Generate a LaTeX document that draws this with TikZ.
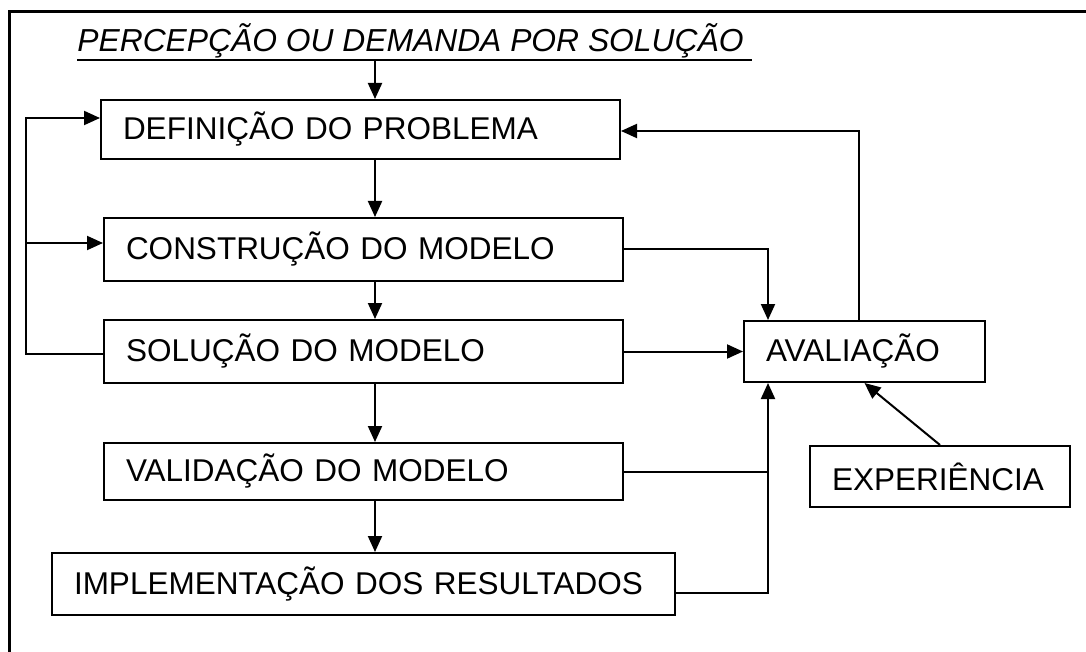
\documentclass[tikz,border=0pt]{standalone}
\usepackage{fontspec}
\setmainfont{Liberation Sans}
\usetikzlibrary{arrows.meta}
\newcommand{\stagefont}{\fontsize{15.75}{18}\selectfont}
\tikzset{
	stage/.style={draw, line width=1pt, anchor=north west, align=left, inner xsep=11pt, inner ysep=0pt, font=\stagefont},
	link/.style={line width=1pt},
	arr/.style={link, -{Triangle[length=8pt,width=7pt]}}
}

\begin{document}
\begin{tikzpicture}[x=0.5pt, y=-0.5pt]
	\useasboundingbox (0,0) rectangle (1086,652);
	\draw[line width=1.5pt] (9,652) -- (9,12) -- (1086,12);

	\node (demand) [anchor=base west, inner sep=0pt, font=\fontsize{15.9}{18}\selectfont\itshape] at (77,52) {PERCEPÇÃO OU DEMANDA POR SOLUÇÃO};
	\coordinate (ul) at (375,60);
	\draw[link] (ul -| demand.west) -- (752,60);

	\node (def) [stage, text width=237.5pt, minimum height=29.5pt] at (100,99) {DEFINIÇÃO DO PROBLEMA};
	\node (cons) [stage, text width=237.5pt, minimum height=31.5pt] at (103,217) {CONSTRUÇÃO DO MODELO};
	\node (sol) [stage, text width=237.5pt, minimum height=31.5pt] at (103,319) {SOLUÇÃO DO MODELO};
	\node (val) [stage, text width=237.5pt, minimum height=28.5pt] at (103,442) {VALIDAÇÃO DO MODELO};
	\node (impl) [stage, text width=289.5pt, minimum height=31pt] at (51,552) {IMPLEMENTAÇÃO DOS RESULTADOS};
	\node (aval) [stage, text width=98.5pt, minimum height=30.5pt] at (743,320) {AVALIAÇÃO};
	\node (exp) [stage, text width=108pt, minimum height=30.5pt] at (809,445) {EXPERIÊNCIA};

	\draw[arr] (ul) -- (ul |- def.north);
	\draw[arr] (def.south -| ul) -- (cons.north -| ul);
	\draw[arr] (cons.south -| ul) -- (sol.north -| ul);
	\draw[arr] (sol.south -| ul) -- (val.north -| ul);
	\draw[arr] (val.south -| ul) -- (impl.north -| ul);

	\coordinate (lbus top) at (26,118);
	\coordinate (lbus mid) at (26,243);
	\coordinate (lbus bot) at (26,354);
	\draw[arr] (sol.west |- lbus bot) -- (lbus bot) -- (lbus top) -- (def.west |- lbus top);
	\draw[arr] (lbus mid) -- (cons.west |- lbus mid);

	\coordinate (rbus) at (768,593);
	\coordinate (fb) at (859,131);
	\draw[arr] (cons.east) -| (aval.north -| rbus);
	\draw[arr] (sol.east) -- (aval.west);
	\draw[arr] (aval.north -| fb) -- (fb) -- (def.east |- fb);
	\draw[link] (val.east) -- (val.east -| rbus);
	\draw[arr] (impl.east |- rbus) -- (rbus) -- (rbus |- aval.south);
	\draw[arr] (exp.north) -- (aval.south);
\end{tikzpicture}
\end{document}
